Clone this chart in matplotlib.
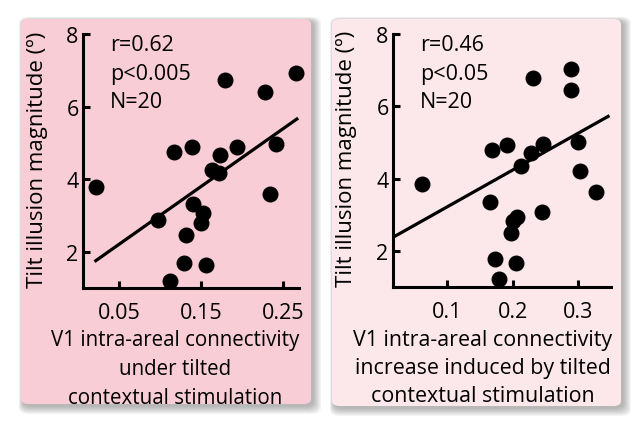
import matplotlib
matplotlib.use("Agg")
import matplotlib.pyplot as plt
from matplotlib.patches import FancyBboxPatch

# Left panel: connectivity under tilted context
conn_left = [0.021, 0.097, 0.117, 0.139, 0.112, 0.129, 0.131, 0.140, 0.152, 0.150,
             0.156, 0.163, 0.172, 0.173, 0.194, 0.179, 0.228, 0.242, 0.234, 0.266]
tilt_left = [3.80, 2.89, 4.76, 4.88, 1.21, 1.70, 2.47, 3.32, 3.06, 2.79,
             1.64, 4.27, 4.17, 4.67, 4.88, 6.73, 6.39, 4.96, 3.60, 6.94]
fit_x_left = [0.021, 0.267]
fit_y_left = [1.76, 5.66]

# Right panel: connectivity increase induced by tilted context
conn_right = [0.062, 0.165, 0.168, 0.192, 0.173, 0.180, 0.206, 0.197, 0.200, 0.207,
              0.213, 0.229, 0.246, 0.231, 0.245, 0.290, 0.290, 0.300, 0.303, 0.328]
tilt_right = [3.84, 3.36, 4.80, 4.93, 1.77, 1.23, 1.67, 2.49, 2.83, 2.95,
              4.35, 4.72, 4.95, 6.77, 3.08, 7.03, 6.46, 5.02, 4.21, 3.63]
fit_x_right = [0.017, 0.346]
fit_y_right = [2.37, 5.72]

stats_left = "r=0.62\np<0.005\nN=20"
stats_right = "r=0.46\np<0.05\nN=20"
xlabel_left = "V1 intra-areal connectivity\nunder tilted\ncontextual stimulation"
xlabel_right = "V1 intra-areal connectivity\nincrease induced by tilted\ncontextual stimulation"
ylabel = "Tilt illusion magnitude (º)"

plt.rcParams['font.family'] = ['Open Sans', 'DejaVu Sans']

W, H = 640, 431
fig = plt.figure(figsize=(W / 100, H / 100), dpi=100)


def fx(px):
    return px / W


def fy(py):
    return 1 - py / H


def panel(x0, y0, x1, y1, color):
    # soft grey shadow, heavier to the right and below
    for i in range(10, 0, -1):
        sh = FancyBboxPatch((fx(x0 - i * 0.4 + 2), fy(y1 + i * 0.8 + 2)),
                            fx(x1 - x0 + i * 1.2), (y1 - y0 + i * 1.2) / H,
                            boxstyle="round,pad=0,rounding_size=0.015",
                            transform=fig.transFigure, facecolor="#444444",
                            edgecolor="none", alpha=0.045, zorder=-3)
        fig.patches.append(sh)
    p = FancyBboxPatch((fx(x0), fy(y1)), fx(x1 - x0), (y1 - y0) / H,
                       boxstyle="round,pad=0,rounding_size=0.012",
                       transform=fig.transFigure, facecolor=color,
                       edgecolor="none", zorder=-2)
    fig.patches.append(p)


panel(21, 20, 311, 405, "#f8cdd6")
panel(332, 20, 621, 407, "#fce7eb")


def draw(rect, xs, ys, fxs, fys, xlim, xticks, xticklabels, stats, xlabel, xc,
         ylab_x, xlab_size, xlab_spacing):
    ax = fig.add_axes(rect)
    ax.set_facecolor("none")
    ax.scatter(xs, ys, s=110, color="black", zorder=3, clip_on=False)
    ax.plot(fxs, fys, color="black", lw=2.3, zorder=2)
    ax.set_xlim(*xlim)
    ax.set_ylim(1, 8)
    ax.set_xticks(xticks)
    ax.set_xticklabels(xticklabels)
    ax.set_yticks([2, 4, 6, 8])
    for s in ["top", "right"]:
        ax.spines[s].set_visible(False)
    for s in ["left", "bottom"]:
        ax.spines[s].set_linewidth(2.2)
    ax.tick_params(direction="in", length=5, width=2.2, labelsize=15.5)
    ax.tick_params(axis="x", pad=10)
    ax.tick_params(axis="y", pad=3)
    ax.text(0.125, 1.0, stats, transform=ax.transAxes, fontsize=15.5,
            va="top", ha="left", linespacing=1.48)
    fig.text(fx(xc), fy(330), xlabel, ha="center", va="top", fontsize=xlab_size,
             linespacing=xlab_spacing)
    ax.set_ylabel(ylabel, fontsize=16)
    ax.yaxis.set_label_coords(ylab_x, 0.51)
    return ax


draw([fx(82.7), fy(289.3), fx(299.3) - fx(82.7), fy(35) - fy(289.3)],
     conn_left, tilt_left, fit_x_left, fit_y_left, (0.005, 0.27),
     [0.05, 0.15, 0.25], ["0.05", "0.15", "0.25"], stats_left, xlabel_left, 175,
     -0.16, 14.8, 1.5)

draw([fx(392.7), fy(288), fx(610.7) - fx(392.7), fy(35) - fy(288)],
     conn_right, tilt_right, fit_x_right, fit_y_right, (0.017, 0.35),
     [0.1, 0.2, 0.3], ["0.1", "0.2", "0.3"], stats_right, xlabel_right, 483,
     -0.164, 15.4, 1.44)

fig.savefig("out.png", dpi=100)
